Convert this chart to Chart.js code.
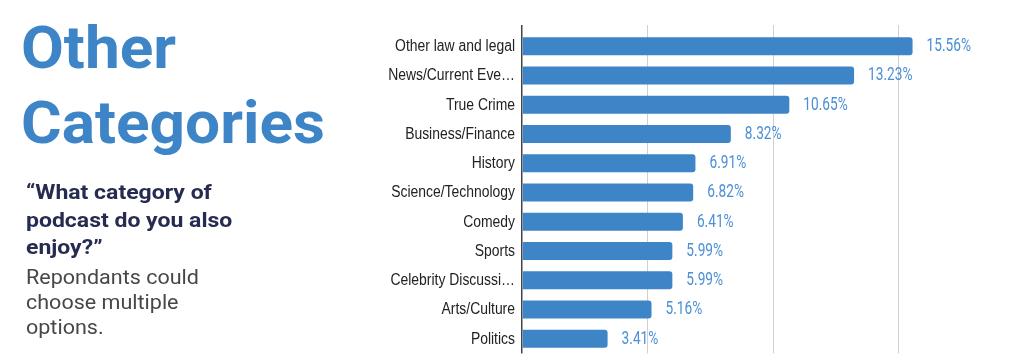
<!DOCTYPE html>
<html>
<head>
<meta charset="utf-8">
<script src="https://cdn.jsdelivr.net/npm/chart.js@4"></script>
<style>
  html, body { margin: 0; padding: 0; background: #fff; width: 1024px; height: 356px; overflow: hidden; }
  #wrap { position: absolute; left: 0; top: 0; width: 1024px; height: 356px; }
  .t { position: absolute; white-space: nowrap; font-family: Roboto, "Noto Sans", sans-serif; transform-origin: 0 0; }
  #title { left: 21px; top: 11px; font-size: 59.5px; font-weight: 700; line-height: 75px; color: #3d85c6; transform: scaleX(1.045); }
  #q { left: 26px; top: 179px; font-size: 20px; font-weight: 700; line-height: 27.5px; color: #262b50; transform: scaleX(1.15); }
  #n { left: 26px; top: 264.5px; font-size: 20.5px; font-weight: 400; line-height: 25px; color: #474747; transform: scaleX(1.05); }
</style>
</head>
<body>
<div id="wrap"><canvas id="c" width="1024" height="356"></canvas></div>
<div class="t" id="title">Other<br>Categories</div>
<div class="t" id="q">“What category of<br>podcast do you also<br>enjoy?”</div>
<div class="t" id="n">Repondants could<br>choose multiple<br>options.</div>
<script>
const categories = [
  "Other law and legal",
  "News/Current Eve…",
  "True Crime",
  "Business/Finance",
  "History",
  "Science/Technology",
  "Comedy",
  "Sports",
  "Celebrity Discussi…",
  "Arts/Culture",
  "Politics"
];
const shares = [15.56, 13.23, 10.65, 8.32, 6.91, 6.82, 6.41, 5.99, 5.99, 5.16, 3.41];
const valueLabels = ["15.56%", "13.23%", "10.65%", "8.32%", "6.91%", "6.82%", "6.41%", "5.99%", "5.99%", "5.16%", "3.41%"];

// Category names, drawn narrow at the positions of the library's category scale
const categoryLabelPlugin = {
  id: 'categoryLabels',
  afterDraw(chart) {
    const ctx = chart.ctx;
    const yScale = chart.scales.y;
    ctx.save();
    ctx.fillStyle = '#222222';
    ctx.font = '400 16px "Liberation Sans", Arial, sans-serif';
    ctx.textBaseline = 'middle';
    ctx.textAlign = 'right';
    chart.data.labels.forEach((lab, i) => {
      const y = yScale.getPixelForValue(i);
      ctx.save();
      ctx.translate(chart.chartArea.left - 7, y + 0.5);
      ctx.scale(0.87, 1);
      ctx.fillText(lab, 0, 0);
      ctx.restore();
    });
    ctx.restore();
  }
};

const valueLabelPlugin = {
  id: 'valueLabels',
  afterDatasetsDraw(chart) {
    const ctx = chart.ctx;
    const meta = chart.getDatasetMeta(0);
    ctx.save();
    ctx.fillStyle = '#4b8fd6';
    ctx.font = '400 17.8px Roboto';
    ctx.textBaseline = 'middle';
    ctx.textAlign = 'left';
    meta.data.forEach((bar, i) => {
      ctx.save();
      ctx.translate(bar.x + 14, bar.y + 0.5);
      ctx.scale(0.77, 1);
      ctx.fillText(valueLabels[i], 0, 0);
      ctx.restore();
    });
    ctx.restore();
  }
};

new Chart(document.getElementById('c'), {
  type: 'bar',
  data: {
    labels: categories,
    datasets: [{
      data: shares,
      backgroundColor: '#3d85c6',
      borderRadius: 3,
      borderSkipped: 'start',
      barPercentage: 0.615,
      categoryPercentage: 1
    }]
  },
  options: {
    indexAxis: 'y',
    responsive: false,
    animation: false,
    devicePixelRatio: 1,
    layout: { padding: { left: 382, top: 25, right: 0, bottom: 2.6 } },
    plugins: { legend: { display: false }, tooltip: { enabled: false } },
    scales: {
      x: {
        position: 'top',
        min: 0,
        max: 20,
        ticks: { display: false, stepSize: 5 },
        border: { display: false },
        grid: {
          drawTicks: true,
          tickLength: 6.6,
          lineWidth: (c) => c.tick && c.tick.value === 0 ? 1.5 : 1,
          color: (c) => c.tick && c.tick.value === 0 ? '#444444' : '#d0d0d0'
        }
      },
      y: {
        grid: { display: false, drawTicks: false },
        border: { display: false },
        ticks: { display: false },
        afterFit(scale) { scale.width = 140; }
      }
    }
  },
  plugins: [valueLabelPlugin, categoryLabelPlugin]
});
</script>
</body>
</html>
